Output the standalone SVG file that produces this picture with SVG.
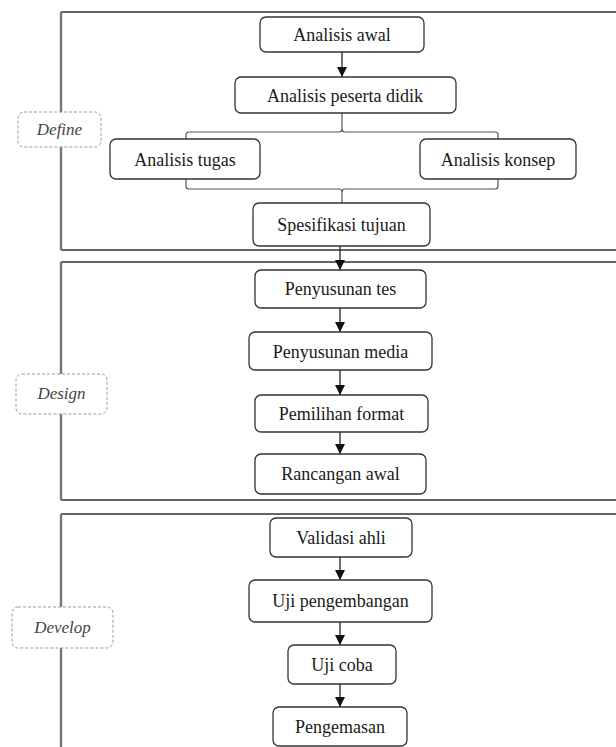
<svg xmlns="http://www.w3.org/2000/svg" width="616" height="747" viewBox="0 0 616 747">
<style>
.frame{fill:none;stroke:#333;stroke-width:1.6}
.frameL{fill:none;stroke:#777;stroke-width:2.4}
.box{fill:#fff;stroke:#333;stroke-width:1.3}
.lbl{fill:#fff;stroke:#999;stroke-width:1;stroke-dasharray:3 2}
.t{font-family:"Liberation Serif","DejaVu Serif",serif;font-size:18px;fill:#1a1a1a;text-anchor:middle}
.ti{font-family:"Liberation Serif","DejaVu Serif",serif;font-size:17px;font-style:italic;fill:#444;text-anchor:middle}
.c{fill:none;stroke:#222;stroke-width:1.3}
.b{fill:none;stroke:#555;stroke-width:1.2}
</style>
<defs>
<marker id="ah" viewBox="0 0 10 10" refX="10" refY="5" markerWidth="10" markerHeight="10" markerUnits="userSpaceOnUse" orient="auto">
<path d="M0,0 L10,5 L0,10 z" fill="#111"/>
</marker>
</defs>
<rect width="616" height="747" fill="#fff"/>
<g id="frames">
<path class="frame" d="M61,12 H640 M61,250 H640 M61,262 H640 M61,500 H640 M61,514 H640"/>
<path class="frameL" d="M61,12 V250 M61,262 V500 M61,514 V760"/>
</g>
<g id="connectors">
<path class="c" d="M342,52 V77" marker-end="url(#ah)"/>
<path class="b" d="M186,140 V135 Q186,132 189,132 H339 Q342,132 342,129 V113 M342,129 Q342,132 345,132 H495 Q498,132 498,135 V140"/>
<path class="b" d="M186,178 V186 Q186,189 189,189 H339 Q342,189 342,192 V203 M342,192 Q342,189 345,189 H495 Q498,189 498,186 V178"/>
<path class="c" d="M340,246 V270" marker-end="url(#ah)"/>
<path class="c" d="M340,308 V332" marker-end="url(#ah)"/>
<path class="c" d="M340,370 V395" marker-end="url(#ah)"/>
<path class="c" d="M340,432 V454" marker-end="url(#ah)"/>
<path class="c" d="M340,557 V580" marker-end="url(#ah)"/>
<path class="c" d="M340,622 V645" marker-end="url(#ah)"/>
<path class="c" d="M340,684 V707" marker-end="url(#ah)"/>
</g>
<g id="define"><rect class="lbl" x="18" y="112" width="83" height="35" rx="6"/><text class="ti" x="59.5" y="135">Define</text></g>
<g id="design"><rect class="lbl" x="16" y="374" width="91" height="40" rx="6"/><text class="ti" x="61.5" y="399">Design</text></g>
<g id="develop"><rect class="lbl" x="12" y="607" width="101" height="41" rx="6"/><text class="ti" x="62.5" y="633">Develop</text></g>
<g id="analisis-awal"><rect class="box" x="260" y="17" width="164" height="35" rx="6"/><text class="t" x="342" y="41">Analisis awal</text></g>
<g id="analisis-peserta"><rect class="box" x="235" y="77" width="221" height="36" rx="6"/><text class="t" x="345" y="102">Analisis peserta didik</text></g>
<g id="analisis-tugas"><rect class="box" x="110" y="139" width="150" height="40" rx="6"/><text class="t" x="185" y="166">Analisis tugas</text></g>
<g id="analisis-konsep"><rect class="box" x="420" y="139" width="156" height="40" rx="6"/><text class="t" x="498" y="166">Analisis konsep</text></g>
<g id="spesifikasi"><rect class="box" x="253" y="203" width="177" height="43" rx="6"/><text class="t" x="341.5" y="231">Spesifikasi tujuan</text></g>
<g id="penyusunan-tes"><rect class="box" x="255" y="270" width="171" height="38" rx="6"/><text class="t" x="340.5" y="295">Penyusunan tes</text></g>
<g id="penyusunan-media"><rect class="box" x="249" y="332" width="183" height="38" rx="6"/><text class="t" x="340.5" y="358">Penyusunan media</text></g>
<g id="pemilihan-format"><rect class="box" x="255" y="395" width="173" height="37" rx="6"/><text class="t" x="341.5" y="420">Pemilihan format</text></g>
<g id="rancangan-awal"><rect class="box" x="255" y="454" width="171" height="40" rx="6"/><text class="t" x="340.5" y="480">Rancangan awal</text></g>
<g id="validasi-ahli"><rect class="box" x="270" y="518" width="142" height="39" rx="6"/><text class="t" x="341" y="544">Validasi ahli</text></g>
<g id="uji-pengembangan"><rect class="box" x="249" y="580" width="183" height="42" rx="6"/><text class="t" x="340.5" y="607">Uji pengembangan</text></g>
<g id="uji-coba"><rect class="box" x="288" y="645" width="108" height="39" rx="6"/><text class="t" x="342" y="671">Uji coba</text></g>
<g id="pengemasan"><rect class="box" x="273" y="707" width="134" height="39" rx="6"/><text class="t" x="340" y="733">Pengemasan</text></g>
</svg>
